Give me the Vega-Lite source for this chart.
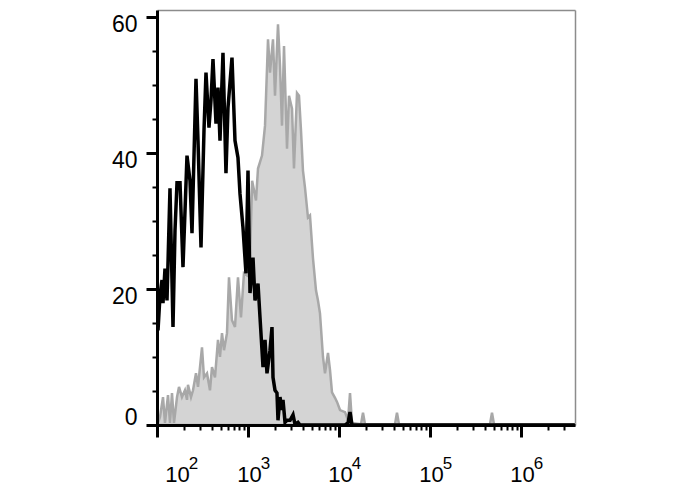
{
  "$schema": "https://vega.github.io/schema/vega-lite/v6.json",
  "width": 418,
  "height": 415,
  "autosize": "none",
  "padding": {"left": 157, "top": 10, "right": 113, "bottom": 65},
  "background": "white",
  "config": {
    "view": {"stroke": null},
    "axis": {"labelFont": "Liberation Sans", "grid": false, "title": null}
  },
  "datasets": {
    "stained": [
      {"fl": 102.6, "count": 0.3}, {"fl": 107.9, "count": 1.2}, {"fl": 116.4, "count": 4.1}, {"fl": 122.4, "count": 0.3},
      {"fl": 132.1, "count": 4.4}, {"fl": 138.9, "count": 0.3}, {"fl": 146.1, "count": 4.7}, {"fl": 153.7, "count": 0.3},
      {"fl": 165.9, "count": 4.1}, {"fl": 174.5, "count": 5.6}, {"fl": 188.1, "count": 4.1}, {"fl": 202.9, "count": 5.1},
      {"fl": 213.6, "count": 3.7}, {"fl": 219.0, "count": 5.9}, {"fl": 236.4, "count": 4.1}, {"fl": 248.7, "count": 5.1},
      {"fl": 268.2, "count": 7.6}, {"fl": 282.2, "count": 5.6}, {"fl": 312.2, "count": 11.4}, {"fl": 328.4, "count": 7.0},
      {"fl": 354.3, "count": 7.6}, {"fl": 382.2, "count": 5.1}, {"fl": 402.0, "count": 8.5}, {"fl": 433.7, "count": 7.0},
      {"fl": 467.9, "count": 12.5}, {"fl": 492.2, "count": 10.0}, {"fl": 517.9, "count": 13.5}, {"fl": 544.8, "count": 11.0},
      {"fl": 587.5, "count": 13.5}, {"fl": 618.1, "count": 21.7}, {"fl": 666.8, "count": 15.4}, {"fl": 719.4, "count": 14.4},
      {"fl": 776.1, "count": 21.7}, {"fl": 837.2, "count": 15.8}, {"fl": 903.2, "count": 22.3}, {"fl": 974.0, "count": 22.0},
      {"fl": 1052, "count": 24.2}, {"fl": 1110, "count": 35.9}, {"fl": 1224, "count": 33.0}, {"fl": 1288, "count": 37.7},
      {"fl": 1425, "count": 39.6}, {"fl": 1538, "count": 44.0}, {"fl": 1659, "count": 56.7}, {"fl": 1745, "count": 51.8},
      {"fl": 1882, "count": 56.7}, {"fl": 1980, "count": 48.4}, {"fl": 2136, "count": 58.9}, {"fl": 2247, "count": 52.8},
      {"fl": 2363, "count": 44.0}, {"fl": 2487, "count": 55.7}, {"fl": 2683, "count": 40.6}, {"fl": 2823, "count": 48.4},
      {"fl": 3045, "count": 46.5}, {"fl": 3201, "count": 37.7}, {"fl": 3455, "count": 48.8}, {"fl": 3634, "count": 48.4},
      {"fl": 3822, "count": 43.3}, {"fl": 4018, "count": 37.4}, {"fl": 4228, "count": 34.9}, {"fl": 4561, "count": 30.5},
      {"fl": 4797, "count": 30.8}, {"fl": 5177, "count": 24.5}, {"fl": 5585, "count": 19.8}, {"fl": 5875, "count": 18.3},
      {"fl": 6180, "count": 16.4}, {"fl": 6668, "count": 10.0}, {"fl": 7015, "count": 7.6}, {"fl": 7568, "count": 10.6},
      {"fl": 7962, "count": 8.1}, {"fl": 8375, "count": 4.8}, {"fl": 9036, "count": 4.0}, {"fl": 9506, "count": 3.4},
      {"fl": 10260, "count": 2.2}, {"fl": 11640, "count": 1.9}, {"fl": 12560, "count": 0.7}, {"fl": 13210, "count": 4.7},
      {"fl": 13900, "count": 0.3}, {"fl": 17450, "count": 0.1}, {"fl": 18350, "count": 1.8}, {"fl": 19300, "count": 0.1},
      {"fl": 41210, "count": 0.1}, {"fl": 43360, "count": 1.8}, {"fl": 45600, "count": 0.1},
      {"fl": 456000, "count": 0.1}, {"fl": 479800, "count": 1.8}, {"fl": 504700, "count": 0.1}, {"fl": 3900000, "count": 0.1}
    ],
    "control": [
      {"fl": 102.6, "count": 13.9}, {"fl": 107.9, "count": 19.1}, {"fl": 113.5, "count": 21.3}, {"fl": 116.4, "count": 17.9},
      {"fl": 122.4, "count": 23.0}, {"fl": 128.8, "count": 18.3}, {"fl": 138.9, "count": 34.8}, {"fl": 149.9, "count": 14.4},
      {"fl": 157.7, "count": 28.6}, {"fl": 165.9, "count": 35.6}, {"fl": 179.0, "count": 35.6}, {"fl": 193.0, "count": 23.2},
      {"fl": 213.6, "count": 39.6}, {"fl": 230.5, "count": 35.9}, {"fl": 242.4, "count": 28.2}, {"fl": 268.2, "count": 50.9},
      {"fl": 282.2, "count": 41.8}, {"fl": 304.5, "count": 26.1}, {"fl": 328.4, "count": 43.3}, {"fl": 345.4, "count": 51.8},
      {"fl": 372.6, "count": 43.7}, {"fl": 392.0, "count": 47.7}, {"fl": 412.3, "count": 53.8}, {"fl": 444.9, "count": 44.3},
      {"fl": 467.9, "count": 49.6}, {"fl": 492.2, "count": 41.8}, {"fl": 530.9, "count": 54.7}, {"fl": 572.7, "count": 37.0},
      {"fl": 602.4, "count": 46.6}, {"fl": 666.8, "count": 54.0}, {"fl": 719.4, "count": 41.8}, {"fl": 776.1, "count": 39.3},
      {"fl": 816.3, "count": 34.0}, {"fl": 880.7, "count": 29.0}, {"fl": 950.0, "count": 22.3}, {"fl": 1000, "count": 37.4},
      {"fl": 1052, "count": 19.4}, {"fl": 1135, "count": 24.6}, {"fl": 1194, "count": 18.3}, {"fl": 1288, "count": 20.8},
      {"fl": 1355, "count": 15.8}, {"fl": 1462, "count": 8.5}, {"fl": 1538, "count": 12.5}, {"fl": 1617, "count": 7.6},
      {"fl": 1745, "count": 11.0}, {"fl": 1835, "count": 14.4}, {"fl": 1882, "count": 7.0}, {"fl": 1980, "count": 5.1},
      {"fl": 2082, "count": 4.7}, {"fl": 2136, "count": 0.7}, {"fl": 2247, "count": 4.1}, {"fl": 2363, "count": 2.2},
      {"fl": 2424, "count": 3.7}, {"fl": 2551, "count": 0.4}, {"fl": 2683, "count": 0.7}, {"fl": 2897, "count": 0.7},
      {"fl": 3124, "count": 1.5}, {"fl": 3284, "count": 0.1}, {"fl": 3542, "count": 0.4}, {"fl": 3726, "count": 0},
      {"fl": 11640, "count": 0}, {"fl": 12560, "count": 0.3}, {"fl": 13210, "count": 1.9}, {"fl": 13900, "count": 0},
      {"fl": 3900000, "count": 0}
    ]
  },
  "layer": [
    {
      "data": {"name": "stained"},
      "mark": {"type": "area", "fill": "#d4d4d4", "stroke": "#a8a8a8", "strokeWidth": 2.5, "strokeJoin": "miter"},
      "encoding": {
        "x": {
          "field": "fl", "type": "quantitative",
          "scale": {"type": "log", "domain": [100, 3920000], "nice": false},
          "axis": {
            "orient": "bottom", "zindex": 1,
            "values": [100, 200, 300, 400, 500, 600, 700, 800, 900, 1000, 2000, 3000, 4000, 5000, 6000, 7000, 8000, 9000, 10000, 20000, 30000, 40000, 50000, 60000, 70000, 80000, 90000, 100000, 200000, 300000, 400000, 500000, 600000, 700000, 800000, 900000, 1000000, 2000000, 3000000],
            "labelExpr": "indexof([100,1000,10000,100000,1000000], datum.value) >= 0 ? '10' : ''",
            "labelFontSize": 22,
            "labelColor": "#010101",
            "labelPadding": 27,
            "labelOffset": {"condition": {"test": "datum.value === 100", "value": 20}, "value": 1},
            "labelFlush": false,
            "labelOverlap": false,
            "domainColor": "#010101",
            "domainWidth": 3,
            "tickColor": "#010101",
            "tickSize": {"condition": {"test": "indexof([100,1000,10000,100000,1000000], datum.value) >= 0", "value": 12}, "value": 5},
            "tickWidth": {"condition": {"test": "indexof([100,1000,10000,100000,1000000], datum.value) >= 0", "value": 3}, "value": 2}
          }
        },
        "y": {
          "field": "count", "type": "quantitative",
          "scale": {"domain": [0, 61], "nice": false},
          "axis": {
            "orient": "left", "zindex": 1,
            "values": [0, 5, 10, 15, 20, 25, 30, 35, 40, 45, 50, 55, 60],
            "labelExpr": "datum.value % 20 === 0 ? datum.label : ''",
            "labelFontSize": 23,
            "labelColor": "#010101",
            "labelPadding": 9,
            "labelOffset": {"condition": {"test": "datum.value === 0", "value": -8}, "value": 8},
            "labelOverlap": false,
            "labelFlush": false,
            "domainColor": "#010101",
            "domainWidth": 3,
            "tickColor": "#010101",
            "tickSize": {"condition": {"test": "datum.value % 20 === 0", "value": 11}, "value": 5},
            "tickWidth": {"condition": {"test": "datum.value % 20 === 0", "value": 3}, "value": 2}
          }
        }
      }
    },
    {
      "data": {"name": "control"},
      "mark": {"type": "line", "color": "black", "strokeWidth": 3.5, "strokeJoin": "miter", "clip": true},
      "encoding": {
        "x": {
          "field": "fl", "type": "quantitative",
          "scale": {"type": "log", "domain": [100, 3920000], "nice": false},
          "axis": {
            "orient": "bottom", "zindex": 1,
            "values": [100, 1000, 10000, 100000, 1000000],
            "labelExpr": "'' + round(log(datum.value) / LN10)",
            "labelFontSize": 17,
            "labelColor": "#010101",
            "labelPadding": 30,
            "labelOffset": {"condition": {"test": "datum.value === 100", "value": 36}, "value": 17},
            "labelFlush": false,
            "labelOverlap": false,
            "ticks": false,
            "tickSize": 0,
            "domain": false
          }
        },
        "y": {
          "field": "count", "type": "quantitative",
          "scale": {"domain": [0, 61], "nice": false},
          "axis": {"orient": "right", "domain": true, "domainColor": "#8c8c8c", "domainWidth": 1.5, "ticks": false, "labels": false, "zindex": 0}
        }
      }
    },
    {
      "data": {"name": "control"},
      "mark": {"type": "point", "opacity": 0},
      "encoding": {
        "x": {
          "field": "fl", "type": "quantitative",
          "scale": {"type": "log", "domain": [100, 3920000], "nice": false},
          "axis": {"orient": "top", "domain": true, "domainColor": "#8c8c8c", "domainWidth": 1.5, "ticks": false, "labels": false, "zindex": 0}
        },
        "y": {
          "field": "count", "type": "quantitative",
          "scale": {"domain": [0, 61], "nice": false},
          "axis": null
        }
      }
    }
  ],
  "resolve": {"axis": {"x": "independent", "y": "independent"}}
}
